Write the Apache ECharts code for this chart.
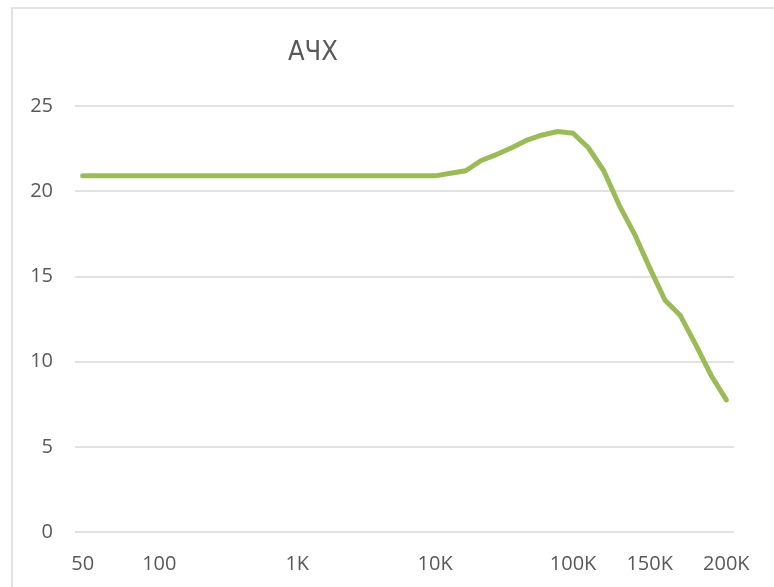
<!DOCTYPE html>
<html>
<head>
<meta charset="utf-8">
<script src="https://cdn.jsdelivr.net/npm/echarts@6/dist/echarts.min.js"></script>
<style>
  html, body { margin: 0; padding: 0; background: #fff; }
  #chart { width: 774px; height: 587px; }
</style>
</head>
<body>
<div id="chart"></div>
<script>
// частоты (категории оси X)
const freqs = ['50', '60', '70', '80', '90', '100',
    '200', '300', '400', '500', '600', '700', '800', '900',
    '1K', '2K', '3K', '4K', '5K', '6K', '7K', '8K', '9K',
    '10K', '20K', '30K', '40K', '50K', '60K', '70K', '80K', '90K',
    '100K', '110K', '120K', '130K', '140K', '150K', '160K', '170K', '180K', '190K', '200K'];
// подписи, которые видны на оси
const shownLabels = ['50', '100', '1K', '10K', '100K', '150K', '200K'];
// значения АЧХ
const gain = [20.9, 20.9, 20.9, 20.9, 20.9, 20.9,
    20.9, 20.9, 20.9, 20.9, 20.9, 20.9, 20.9, 20.9,
    20.9, 20.9, 20.9, 20.9, 20.9, 20.9, 20.9, 20.9, 20.9,
    20.9, 21.05, 21.2, 21.8, 22.15, 22.55, 23.0, 23.3, 23.5,
    23.4, 22.55, 21.2, 19.2, 17.5, 15.5, 13.6, 12.7, 11.0, 9.2, 7.75];
const yTicks = [0, 5, 10, 15, 20, 25];

const font = "'Open Sans', 'Liberation Sans', sans-serif";
const myChart = echarts.init(document.getElementById('chart'));

const option = {
    animation: false,
    title: {
        text: 'АЧХ',
        left: 283,
        top: 34,
        textStyle: {
            fontFamily: "'Liberation Sans Narrow', 'DejaVu Sans Condensed', sans-serif",
            fontSize: 27,
            fontWeight: 'normal',
            color: '#595959'
        }
    },
    graphic: [
        {
            type: 'rect',
            shape: { x: 12, y: 8, width: 800, height: 620 },
            style: { fill: 'none', stroke: '#d9d9d9', lineWidth: 1.5 },
            silent: true
        }
    ],
    grid: {
        left: 75,
        right: 40,
        top: 106,
        bottom: 55
    },
    xAxis: {
        type: 'category',
        data: freqs,
        boundaryGap: true,
        axisLine: { show: false },
        axisTick: { show: false },
        axisLabel: {
            interval: 0,
            margin: 22,
            fontFamily: font,
            fontSize: 20,
            color: '#595959',
            formatter: v => shownLabels.includes(v) ? v : ''
        }
    },
    yAxis: {
        type: 'value',
        min: yTicks[0],
        max: yTicks[yTicks.length - 1],
        interval: 5,
        axisLine: { show: false },
        axisTick: { show: false },
        axisLabel: {
            margin: 22,
            fontFamily: font,
            fontSize: 20,
            color: '#595959'
        },
        splitLine: {
            lineStyle: { color: '#d9d9d9', width: 1.5 }
        }
    },
    series: [
        {
            name: 'АЧХ',
            type: 'line',
            data: gain,
            showSymbol: false,
            symbol: 'none',
            lineStyle: {
                color: '#9bbb59',
                width: 5,
                cap: 'round',
                join: 'round'
            }
        }
    ]
};

myChart.setOption(option);
</script>
</body>
</html>
